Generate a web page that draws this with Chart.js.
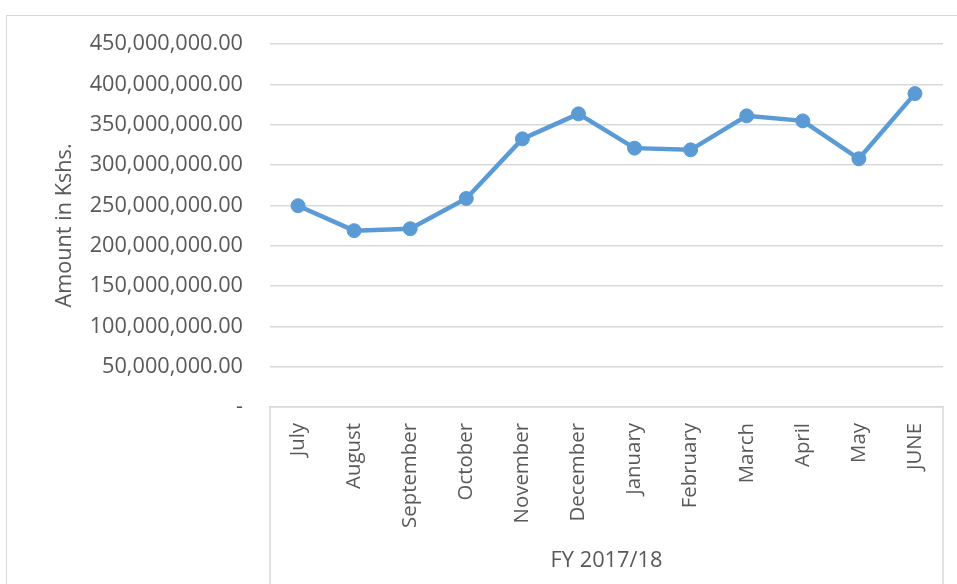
<!DOCTYPE html>
<html>
<head>
<meta charset="utf-8">
<script src="https://cdn.jsdelivr.net/npm/chart.js@4"></script>
<style>
  html, body { margin: 0; padding: 0; background: #fff; overflow: hidden; }
  #frame { position: absolute; left: 6px; top: 15px; width: 1000px; height: 600px; border: 1px solid #d9d9d9; }
  #wrap { position: absolute; left: 0; top: 0; width: 957px; height: 584px; }
</style>
</head>
<body>
<div id="frame"></div>
<div id="wrap"><canvas id="chart"></canvas></div>
<script>
// months of the financial year
const months = ["July", "August", "September", "October", "November", "December",
  "January", "February", "March", "April", "May", "JUNE"];
// amounts in Kshs
const amounts = [249500000, 218600000, 221000000, 258500000, 332400000, 363400000,
  320900000, 318800000, 360900000, 354700000, 307700000, 388500000];
const yearLabel = "FY 2017/18";
const yMax = 450000000;
const yStep = 50000000;

const grey = "#595959";
const font = "'Open Sans', sans-serif";

// box around the category axis (multi-level axis look)
const axisBox = {
  id: "axisBox",
  afterDraw(chart) {
    const ctx = chart.ctx;
    const a = chart.chartArea;
    ctx.save();
    ctx.strokeStyle = "#d9d9d9";
    ctx.lineWidth = 1.5;
    ctx.beginPath();
    ctx.moveTo(a.left, a.bottom);
    ctx.lineTo(a.left, chart.height);
    ctx.moveTo(a.right, a.bottom);
    ctx.lineTo(a.right, chart.height);
    ctx.stroke();
    ctx.restore();
  }
};

new Chart(document.getElementById("chart"), {
  type: "line",
  data: {
    labels: months,
    datasets: [{
      data: amounts,
      borderColor: "#5b9bd5",
      backgroundColor: "#5b9bd5",
      borderWidth: 4.5,
      pointRadius: 7,
      pointBorderWidth: 1,
      tension: 0
    }]
  },
  options: {
    responsive: true,
    maintainAspectRatio: false,
    animation: false,
    layout: { padding: { left: 52, right: 14, top: 44, bottom: 10 } },
    plugins: { legend: { display: false }, tooltip: { enabled: false } },
    scales: {
      x: {
        offset: true,
        grid: { display: false, drawTicks: false },
        border: { display: true, color: "#d9d9d9", width: 1.5 },
        ticks: {
          color: grey, font: { family: font, size: 20.4 },
          maxRotation: 90, minRotation: 90, padding: 16, autoSkip: false
        },
        title: {
          display: true, text: yearLabel, color: grey,
          font: { family: font, size: 21.8 }, padding: { top: 0, bottom: 0 }
        },
        afterFit(scale) { scale.height = 584 - 407 - 10; }
      },
      y: {
        min: 0, max: yMax,
        grid: { color: "#d9d9d9", lineWidth: 1.5, drawTicks: false },
        border: { display: false },
        ticks: {
          stepSize: yStep, color: grey, padding: 27,
          font: { family: font, size: 21.7 },
          callback: v => v === 0 ? "-" : v.toLocaleString("en-US", { minimumFractionDigits: 2, maximumFractionDigits: 2 })
        },
        title: {
          display: true, text: "Amount in Kshs.", color: grey,
          font: { family: font, size: 21.7 }, padding: { top: 0, bottom: 0 }
        },
        afterFit(scale) { scale.width = 270 - 52; }
      }
    }
  },
  plugins: [axisBox]
});
</script>
</body>
</html>
